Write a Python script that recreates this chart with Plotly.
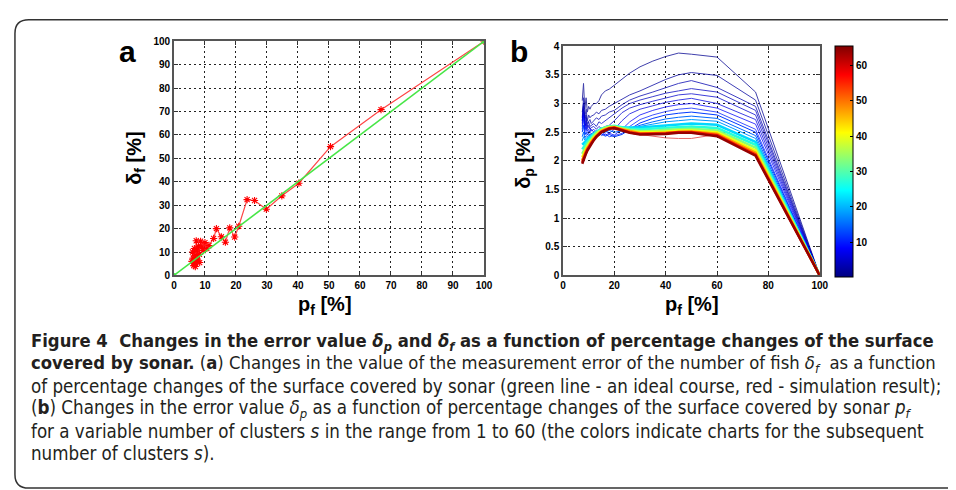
import plotly.graph_objects as go
from plotly.colors import sample_colorscale

W, H = 956, 490
def px(x): return x / W
def py(y): return 1 - y / H

# ---------------- Panel a data ----------------
PA_PF = [100, 66.8, 50.5, 40.3, 34.8, 29.8, 26.0, 23.6, 20.9, 19.6, 18.0, 16.6, 15.3, 13.7, 12.8,
         11.3, 10.6, 10.0, 9.4, 9.0, 8.6, 8.2, 7.9, 7.6, 7.4, 7.2, 7.0, 6.8, 6.6, 6.4, 6.2, 6.0,
         5.8, 6.3, 6.9, 7.5, 8.3]
PA_DF = [100, 70.8, 55.0, 39.4, 34.0, 28.3, 32.0, 32.4, 21.0, 16.4, 20.3, 14.2, 16.5, 20.0, 15.8,
         12.8, 11.5, 14.0, 10.6, 12.2, 14.6, 9.0, 12.5, 6.5, 10.8, 14.8, 5.0, 8.5, 11.5, 4.2, 7.4, 10.0,
         6.0, 5.2, 3.8, 7.0, 5.5]
IDEAL_PF = [0, 100]
IDEAL_DF = [0, 100]
A_TICKS = [0, 10, 20, 30, 40, 50, 60, 70, 80, 90, 100]

# ---------------- Panel b data ----------------
PB_PF = [7.5, 8, 8.5, 9, 9.5, 10, 10.5, 11, 12, 13, 14, 15, 16.5, 18, 20, 23, 26, 30, 35, 40, 45, 50, 60, 75, 100]
DP_S1  = [3.05, 3.35, 2.90, 3.10, 2.85, 2.95, 2.90, 2.95, 3.00, 3.00, 3.05, 3.15, 3.22, 3.25, 3.32, 3.42, 3.53, 3.64, 3.74, 3.82, 3.88, 3.86, 3.81, 3.20, 0]
DP_S2  = [2.85, 3.00, 2.75, 2.90, 2.70, 2.80, 2.75, 2.78, 2.80, 2.85, 2.82, 2.88, 2.90, 2.95, 3.00, 3.08, 3.15, 3.22, 3.32, 3.42, 3.50, 3.54, 3.49, 3.06, 0]
DP_S3  = [2.75, 3.10, 2.70, 2.80, 2.65, 2.70, 2.72, 2.65, 2.70, 2.75, 2.72, 2.78, 2.80, 2.85, 2.88, 2.98, 3.06, 3.13, 3.20, 3.28, 3.35, 3.40, 3.28, 2.95, 0]
DP_S4  = [2.70, 2.95, 2.60, 2.75, 2.60, 2.68, 2.60, 2.62, 2.65, 2.60, 2.68, 2.65, 2.70, 2.75, 2.82, 2.92, 3.00, 3.06, 3.12, 3.18, 3.22, 3.26, 3.20, 2.88, 0]
DP_S5  = [2.65, 2.90, 2.55, 2.70, 2.58, 2.62, 2.55, 2.58, 2.60, 2.55, 2.60, 2.56, 2.60, 2.62, 2.70, 2.84, 2.92, 2.98, 3.04, 3.10, 3.15, 3.17, 3.11, 2.80, 0]
DP_S6  = [2.70, 2.85, 2.60, 2.65, 2.55, 2.60, 2.58, 2.52, 2.55, 2.50, 2.55, 2.50, 2.52, 2.48, 2.55, 2.70, 2.82, 2.90, 2.96, 3.02, 3.06, 3.09, 3.00, 2.72, 0]
DP_S8  = [2.60, 2.80, 2.55, 2.60, 2.52, 2.55, 2.50, 2.55, 2.50, 2.52, 2.47, 2.50, 2.45, 2.48, 2.45, 2.55, 2.68, 2.80, 2.88, 2.94, 2.98, 3.00, 2.92, 2.64, 0]
DP_S10 = [2.55, 2.75, 2.50, 2.58, 2.48, 2.52, 2.50, 2.47, 2.50, 2.45, 2.50, 2.44, 2.47, 2.42, 2.44, 2.48, 2.60, 2.72, 2.80, 2.86, 2.90, 2.92, 2.85, 2.55, 0]
DP_S12 = [2.50, 2.62, 2.45, 2.50, 2.45, 2.48, 2.44, 2.47, 2.45, 2.48, 2.44, 2.47, 2.43, 2.46, 2.42, 2.46, 2.55, 2.66, 2.74, 2.80, 2.83, 2.85, 2.80, 2.50, 0]
DP_S15 = [2.42, 2.50, 2.40, 2.44, 2.42, 2.45, 2.43, 2.46, 2.47, 2.50, 2.48, 2.52, 2.50, 2.53, 2.50, 2.52, 2.56, 2.62, 2.68, 2.73, 2.76, 2.78, 2.74, 2.44, 0]
DP_S18 = [2.35, 2.42, 2.36, 2.40, 2.40, 2.42, 2.43, 2.45, 2.48, 2.50, 2.52, 2.54, 2.55, 2.57, 2.56, 2.56, 2.58, 2.60, 2.64, 2.68, 2.70, 2.72, 2.69, 2.39, 0]
DP_S22 = [2.28, 2.30, 2.32, 2.34, 2.37, 2.40, 2.42, 2.44, 2.48, 2.51, 2.53, 2.56, 2.58, 2.60, 2.60, 2.58, 2.58, 2.58, 2.60, 2.62, 2.64, 2.65, 2.63, 2.33, 0]
DP_S27 = [2.20, 2.24, 2.27, 2.30, 2.33, 2.36, 2.39, 2.41, 2.46, 2.50, 2.53, 2.56, 2.58, 2.60, 2.61, 2.58, 2.56, 2.55, 2.56, 2.58, 2.59, 2.60, 2.57, 2.28, 0]
DP_S33 = [2.12, 2.17, 2.21, 2.25, 2.29, 2.32, 2.35, 2.38, 2.44, 2.49, 2.52, 2.55, 2.58, 2.60, 2.60, 2.57, 2.54, 2.52, 2.52, 2.54, 2.55, 2.56, 2.53, 2.23, 0]
DP_S40 = [2.06, 2.12, 2.17, 2.21, 2.25, 2.29, 2.32, 2.35, 2.41, 2.46, 2.50, 2.53, 2.56, 2.58, 2.59, 2.56, 2.52, 2.50, 2.50, 2.51, 2.53, 2.53, 2.50, 2.18, 0]
DP_S47 = [2.01, 2.08, 2.13, 2.18, 2.22, 2.26, 2.30, 2.33, 2.39, 2.44, 2.48, 2.52, 2.55, 2.57, 2.58, 2.55, 2.51, 2.48, 2.48, 2.49, 2.51, 2.51, 2.47, 2.14, 0]
DP_S55 = [1.98, 2.05, 2.10, 2.15, 2.20, 2.24, 2.28, 2.31, 2.37, 2.43, 2.47, 2.51, 2.54, 2.57, 2.58, 2.54, 2.50, 2.47, 2.47, 2.48, 2.50, 2.50, 2.45, 2.11, 0]
DP_S60 = [1.97, 2.04, 2.09, 2.14, 2.19, 2.23, 2.27, 2.30, 2.36, 2.42, 2.46, 2.50, 2.53, 2.56, 2.57, 2.52, 2.48, 2.46, 2.43, 2.40, 2.39, 2.39, 2.46, 2.10, 0]
DP_S64 = [1.95, 2.02, 2.08, 2.13, 2.18, 2.22, 2.26, 2.30, 2.36, 2.42, 2.46, 2.50, 2.53, 2.56, 2.57, 2.53, 2.49, 2.46, 2.46, 2.47, 2.49, 2.49, 2.43, 2.09, 0]

S_VALUES = [1, 2, 3, 4, 5, 6, 8, 10, 12, 15, 18, 22, 27, 33, 40, 47, 55, 60, 64]
DP_LINES = [DP_S1, DP_S2, DP_S3, DP_S4, DP_S5, DP_S6, DP_S8, DP_S10, DP_S12, DP_S15,
            DP_S18, DP_S22, DP_S27, DP_S33, DP_S40, DP_S47, DP_S55, DP_S60, DP_S64]
B_XTICKS = [0, 20, 40, 60, 80, 100]
B_YTICKS = [0, 0.5, 1, 1.5, 2, 2.5, 3, 3.5, 4]
CB_TICKS = [10, 20, 30, 40, 50, 60]
CMIN, CMAX = 0, 65.5

JET = [[0, 'rgb(0,0,128)'], [0.125, 'rgb(0,0,255)'], [0.375, 'rgb(0,255,255)'],
       [0.625, 'rgb(255,255,0)'], [0.875, 'rgb(255,0,0)'], [1, 'rgb(128,0,0)']]

TICKFONT = dict(family="Liberation Sans, Arial", size=10, color="black", weight="bold")

def axis_style(domain, rng, tickvals, anchor):
    return dict(domain=domain, range=rng, tickvals=tickvals, ticks="inside", ticklen=4,
                tickcolor="#333", showline=True, linecolor="#555", linewidth=1.5,
                mirror="ticks", showgrid=True, gridcolor="#222", griddash="2px,3px",
                gridwidth=1, zeroline=False, tickfont=TICKFONT, anchor=anchor)

fig = go.Figure()

# Panel a
fig.add_trace(go.Scatter(x=PA_PF, y=PA_DF, mode="lines+markers", xaxis="x", yaxis="y",
                         line=dict(color="rgb(255,70,70)", width=1.2),
                         marker=dict(symbol="asterisk-open", size=6, color="red",
                                     line=dict(color="red", width=1.1))))
fig.add_trace(go.Scatter(x=IDEAL_PF, y=IDEAL_DF, mode="lines+markers", xaxis="x", yaxis="y",
                         line=dict(color="rgb(70,230,70)", width=1.5),
                         marker=dict(symbol="circle", size=5, color="rgb(70,230,70)")))

# Panel b
for s, vals in zip(S_VALUES, DP_LINES):
    col = sample_colorscale(JET, [(s - CMIN) / (CMAX - CMIN)])[0]
    if s < 20:
        width, op = 1.0, (0.75 if s < 12 else 1.0)
    elif s == 60:
        width, op = 1.0, 0.6
    else:
        width, op = 2.6, 1.0
    fig.add_trace(go.Scatter(x=PB_PF, y=vals, mode="lines", xaxis="x2", yaxis="y2",
                             line=dict(color=col, width=width), opacity=op))

# colorbar carrier
fig.add_trace(go.Scatter(x=[-50, -50], y=[-5, -5], mode="markers", xaxis="x2", yaxis="y2",
                         marker=dict(color=[CMIN, CMAX], colorscale=JET, cmin=CMIN, cmax=CMAX,
                                     size=1, showscale=True,
                                     colorbar=dict(x=px(834), xanchor="left", xpad=0, ypad=0,
                                                   y=py(151.5), yanchor="middle",
                                                   len=(270 - 33) / H, lenmode="fraction",
                                                   thickness=18, thicknessmode="pixels",
                                                   outlinecolor="black", outlinewidth=1,
                                                   tickvals=CB_TICKS, ticks="inside", ticklen=3,
                                                   tickcolor="black", tickfont=TICKFONT))))

fig.update_layout(
    width=W, height=H, margin=dict(l=0, r=0, t=0, b=0),
    paper_bgcolor="white", plot_bgcolor="white", showlegend=False,
    xaxis=axis_style([px(165), px(479)], [0, 100], A_TICKS, "y"),
    yaxis=axis_style([py(268), py(28)], [0, 100], A_TICKS, "x"),
    xaxis2=axis_style([px(559), px(819)], [0, 100], B_XTICKS, "y2"),
    yaxis2=axis_style([py(268), py(33)], [0, 4], B_YTICKS, "x2"),
)

ann = []
def add_text(text, x, y, size, family="Liberation Sans, Arial", angle=0, xanchor="center", color="black"):
    ann.append(dict(text=text, x=px(x), y=py(y), xref="paper", yref="paper", showarrow=False,
                    xanchor=xanchor, yanchor="middle", textangle=angle,
                    font=dict(size=size, family=family, color=color)))

add_text("<b>a</b>", 118, 38, 30)
add_text("<b>b</b>", 514, 38, 30)
add_text("<b>p<sub>f</sub> [%]</b>", 318, 299, 20)
add_text("<b>p<sub>f</sub> [%]</b>", 690, 299, 20)
add_text("<b>δ<sub>f</sub> [%]</b>", 126, 148, 20, angle=-90)
add_text("<b>δ<sub>p</sub> [%]</b>", 520, 150, 20, angle=-90)

CAP_FONT = "Liberation Sans Narrow, DejaVu Sans Condensed, Roboto Condensed, Arial Narrow, Roboto"
CAPTION = [
    "<b>Figure 4  Changes in the error value <i>δ<sub>p</sub></i> and <i>δ<sub>f</sub></i> as a function of percentage changes of the surface</b>",
    "<b>covered by sonar.</b> (<b>a</b>) Changes in the value of the measurement error of the number of fish <i>δ<sub>f</sub></i>  as a function",
    "of percentage changes of the surface covered by sonar (green line - an ideal course, red - simulation result);",
    "(<b>b</b>) Changes in the error value <i>δ<sub>p</sub></i> as a function of percentage changes of the surface covered by sonar <i>p<sub>f</sub></i>",
    "for a variable number of clusters <i>s</i> in the range from 1 to 60 (the colors indicate charts for the subsequent",
    "number of clusters <i>s</i>).",
]
CAP_Y = [336, 359, 382, 405, 428, 451]
CAP_SIZE = [18.3, 18.3, 18.6, 18.6, 18.6, 18.6]
for t, yy, sz in zip(CAPTION, CAP_Y, CAP_SIZE):
    add_text(t, 18, yy, sz, family=CAP_FONT, xanchor="left", color="#231f20")

fig.update_layout(annotations=ann)

# rounded frame
x0, x1 = px(4), px(965)
yT, yB = py(6), py(486)
rx, ry = 14 / W, 14 / H
path = (f"M {x1},{yT} L {x0+rx},{yT} Q {x0},{yT} {x0},{yT-ry} L {x0},{yB+ry} "
        f"Q {x0},{yB} {x0+rx},{yB} L {x1},{yB}")
fig.add_shape(type="path", path=path, xref="paper", yref="paper",
              line=dict(color="#333", width=1.5))

fig.write_html("out.html")
